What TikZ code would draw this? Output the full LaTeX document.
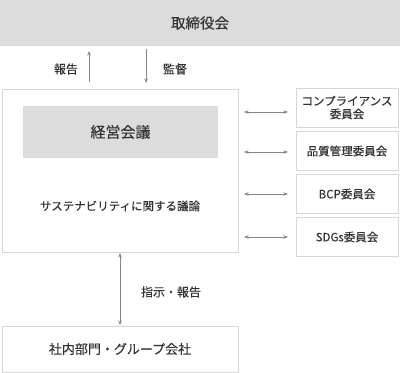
\documentclass[tikz,border=0pt]{standalone}
\usepackage{fontspec}
\setmainfont{Noto Sans CJK JP}[FakeBold=0.35]
\usetikzlibrary{arrows.meta}
\definecolor{txt}{HTML}{333333}
\definecolor{gfill}{HTML}{DCDCDC}
\definecolor{bline}{HTML}{D6D6D6}
\definecolor{aline}{HTML}{858585}
\begin{document}
\begin{tikzpicture}[x=1pt,y=-1pt,
  box/.style={draw=bline,line width=0.9pt,fill=white,inner sep=0pt,text=txt,align=center},
  gbox/.style={fill=gfill,inner sep=0pt,text=txt,align=center},
  lbl/.style={text=txt,inner sep=0pt,font=\fontsize{12}{14}\selectfont},
  arr/.style={draw=aline,line width=0.8pt,-{Stealth[length=4.5pt,width=3.5pt]}},
  darr/.style={draw=aline,line width=0.8pt,{Stealth[length=4.5pt,width=3.5pt]}-{Stealth[length=4.5pt,width=3.5pt]}},
  cbox/.style={box,minimum width=102pt,minimum height=39pt,font=\fontsize{11.5}{15}\selectfont}]
\useasboundingbox (0,0) rectangle (400,373);
\fill[white] (0,0) rectangle (400,373);
\node[gbox,minimum width=400pt,minimum height=46pt,font=\fontsize{14.5}{17}\selectfont] (board) at (200,23) {取締役会};
\node[box,minimum width=236pt,minimum height=163pt] (main) at (120,170.5) {};
\node[gbox,minimum width=195pt,minimum height=52pt,font=\fontsize{15}{18}\selectfont] (exec) at (120.5,132) {経営会議};
\node[text=txt,inner sep=0pt,font=\fontsize{11.5}{14}\selectfont] (sus) at (120,206) {サステナビリティに関する議論};
\node[cbox] (c1) at (347,107.5) {コンプライアンス\\[-2pt]委員会};
\node[cbox] (c2) at (347,151) {品質管理委員会};
\node[cbox] (c3) at (347,194) {BCP委員会};
\node[cbox] (c4) at (347,237) {SDGs委員会};
\node[box,minimum width=236pt,minimum height=46pt,font=\fontsize{13}{16}\selectfont] (grp) at (120,349) {社内部門・グループ会社};
\node[lbl] (lrep) at (66,69) {報告};
\node[lbl] (lsup) at (175,69) {監督};
\node[lbl] (linst) at (171,292) {指示・報告};
% vertical connectors
\coordinate (u1) at (89,82); \coordinate (u2) at (89,51);
\coordinate (d1) at (146,49); \coordinate (d2) at (146,83);
\draw[arr] (u1) -- (u2);
\draw[arr] (d1) -- (d2);
\coordinate (m1) at (120,253); \coordinate (m2) at (120,325);
\draw[darr] (m1) -- (m2);
% horizontal connectors
\foreach \i/\y in {1/112,2/152,3/194,4/237}{
  \coordinate (hl\i) at (244,\y); \coordinate (hr\i) at (288,\y);
  \draw[darr] (hl\i) -- (hr\i);
}
\end{tikzpicture}
\end{document}
